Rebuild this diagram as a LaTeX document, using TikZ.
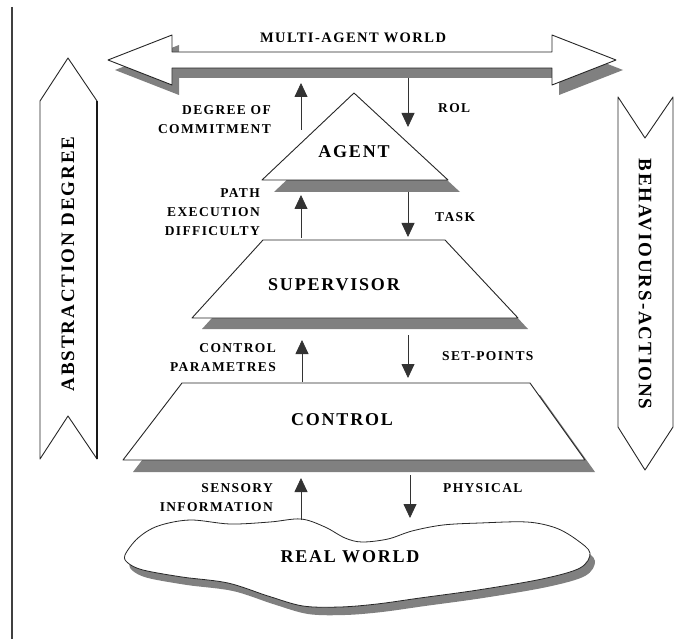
\documentclass[tikz,border=0pt]{standalone}
\usepackage{fontspec}
\setmainfont{Liberation Serif}
\newfontfamily\capsfont{Liberation Serif}[LetterSpace=10]
\usetikzlibrary{arrows.meta}
\begin{document}
\begin{tikzpicture}[x=1pt,y=-1pt,
  outline/.style={draw=black!85, line width=0.9pt, fill=white, line join=round},
  shade/.style={fill=black!50, draw=none},
  flow/.style={draw=black!80, line width=0.8pt, -{Triangle[width=13pt,length=14pt]}},
  big/.style={font=\capsfont\bfseries\fontsize{18}{20}\selectfont, inner sep=0pt},
  title/.style={font=\capsfont\bfseries\fontsize{14.5}{16}\selectfont, inner sep=0pt},
  side/.style={font=\capsfont\bfseries\fontsize{19}{21}\selectfont, inner sep=0pt},
  small/.style={font=\capsfont\bfseries\fontsize{13.5}{19}\selectfont, inner sep=0pt},
]
\useasboundingbox (0,0) rectangle (680,639);
\fill[white] (0,0) rectangle (680,639);

% left margin rule
\draw[black!75, line width=1.3pt] (12,7) -- (12,639);

% multi-agent world double arrow
\def\toparrow{(108,60) -- (172,35) -- (172,52) -- (552,52) -- (552,35) -- (616,60)
  -- (552,85) -- (552,68) -- (172,68) -- (172,85) -- cycle}
\fill[shade, shift={(7,10)}] \toparrow;
\draw[outline] \toparrow;
\node[title] (multi) at (353,38) {MULTI-AGENT WORLD};

% side arrows
\draw[outline] (68,58) -- (97,101) -- (97,459) -- (68,416) -- (40,459) -- (40,101) -- cycle;
\draw[black!90, line width=1.6pt] (97,101) -- (97,459);
\node[side, rotate=90] (abstr) at (68,264) {ABSTRACTION DEGREE};

\draw[outline] (618,97) -- (645,138) -- (673,97) -- (673,427) -- (645,470) -- (618,427) -- cycle;
\node[side, rotate=-90] (behav) at (645,284) {BEHAVIOURS-ACTIONS};

% agent layer
\def\agentshape{(354,93) -- (448,180) -- (262,180) -- cycle}
\fill[shade, shift={(12,12)}] \agentshape;
\draw[outline] \agentshape;
\node[big] (agent) at (354,152) {AGENT};

% supervisor layer
\def\supshape{(263,240) -- (445,240) -- (518,318) -- (192,318) -- cycle}
\fill[shade, shift={(10,11)}] \supshape;
\draw[outline] \supshape;
\node[big] (supervisor) at (334,285) {SUPERVISOR};

% control layer
\def\ctrlshape{(182,383) -- (530,383) -- (585,460) -- (123,460) -- cycle}
\fill[shade, shift={(10,12)}] \ctrlshape;
\draw[outline] \ctrlshape;
\node[big] (control) at (342,420) {CONTROL};

% real world
\def\cloudshape{plot[smooth cycle, tension=0.55] coordinates {
  (125,555) (138,538) (158,526) (190,520) (230,524) (270,522) (301,519)
  (325,527) (345,538) (362,542) (388,539) (412,531) (443,525) (480,523)
  (527,522) (556,528) (577,540) (590,553) (580,568) (542,579) (478,590)
  (420,598) (377,604) (340,607) (303,606) (268,596) (228,583) (182,577)
  (143,570) (128,563)}}
\fill[shade, shift={(5,8)}] \cloudshape;
\draw[outline, line width=0.8pt] \cloudshape;
\node[big] (realworld) at (350,557) {REAL WORLD};

% flow arrows between layers
\coordinate (u1s) at (301,130); \coordinate (u1e) at (301,83);
\coordinate (d1s) at (408,78);  \coordinate (d1e) at (408,127);
\coordinate (u2s) at (301,238); \coordinate (u2e) at (301,195);
\coordinate (d2s) at (408,192); \coordinate (d2e) at (408,237);
\coordinate (u3s) at (302,382); \coordinate (u3e) at (302,340);
\coordinate (d3s) at (408,335); \coordinate (d3e) at (408,378);
\coordinate (u4s) at (301,520); \coordinate (u4e) at (301,478);
\coordinate (d4s) at (410,475); \coordinate (d4e) at (410,518);
\foreach \a in {u1,d1,u2,d2,u3,d3,u4,d4}
  \draw[flow] (\a s) -- (\a e);

% flow labels
\node[small, anchor=east, align=right] (commit) at (271,119.5) {DEGREE OF\\COMMITMENT};
\node[small, anchor=west] (rol) at (438,108) {ROL};
\node[small, anchor=east, align=right] (path) at (260,212) {PATH\\EXECUTION\\DIFFICULTY};
\node[small, anchor=west] (task) at (435,217) {TASK};
\node[small, anchor=east, align=right] (params) at (276,357.5) {CONTROL\\PARAMETRES};
\node[small, anchor=west] (setp) at (442,356) {SET-POINTS};
\node[small, anchor=east, align=right] (sensory) at (273,497.5) {SENSORY\\INFORMATION};
\node[small, anchor=west] (phys) at (443,488) {PHYSICAL};
\end{tikzpicture}
\end{document}
